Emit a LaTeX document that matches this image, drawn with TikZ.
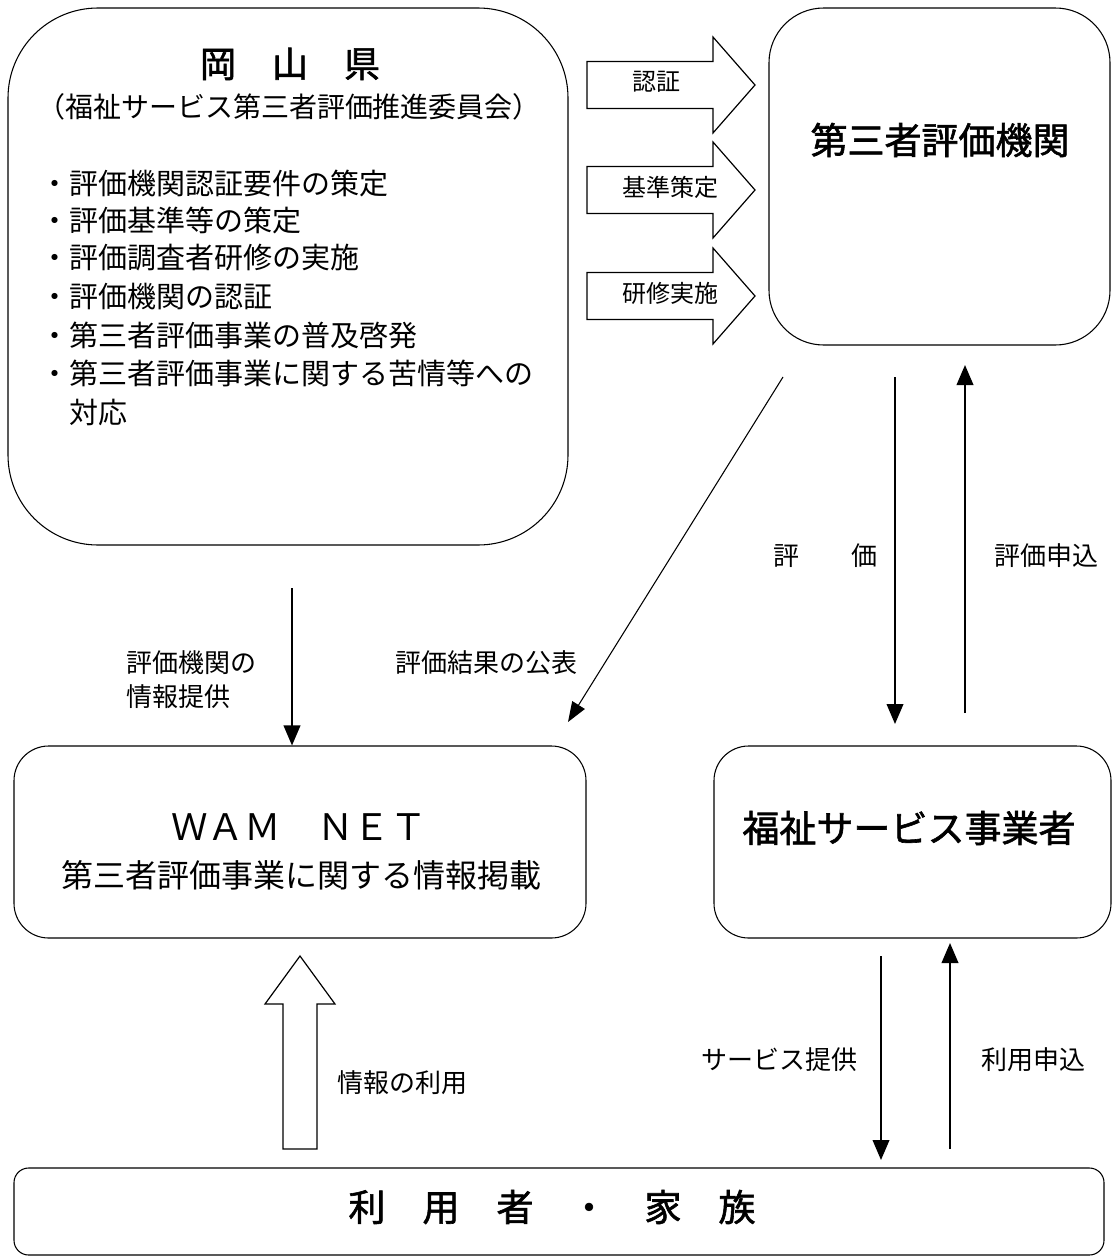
\documentclass[tikz,border=0pt]{standalone}
\usepackage{fontspec}
\setmainfont{Noto Sans CJK JP}
\newfontfamily\medfont[FakeBold=1.6]{Noto Sans CJK JP}
\usetikzlibrary{arrows.meta}
\tikzset{
  box/.style={draw, line width=0.8pt, inner sep=0pt},
  la/.style={line width=1.3pt, -{Triangle[length=15pt,width=12.5pt]}},
  thinla/.style={line width=0.8pt, -{Triangle[length=15pt,width=11pt]}},
  blk/.style={draw, line width=0.9pt, fill=white, line join=miter},
  lbl/.style={inner sep=0pt, font=\fontsize{19.5}{24}\selectfont},
  albl/.style={inner sep=0pt, font=\fontsize{18}{22}\selectfont},
  big/.style={inner sep=0pt, font=\medfont\fontsize{27.75}{32}\selectfont},
  bul/.style={inner sep=0pt, anchor=west, font=\fontsize{21.75}{26}\selectfont},
}
\begin{document}
\begin{tikzpicture}[x=0.75pt,y=-0.75pt]
\useasboundingbox (0,0) rectangle (1113,1260);
\fill[white] (0,0) rectangle (1113,1260);

% ---- boxes
\node[box, rounded corners=67.5pt, minimum width=420pt, minimum height=402.75pt] (oka) at (288,276.5) {};
\node[box, rounded corners=41pt, minimum width=255.75pt, minimum height=252.75pt] (tpe) at (939.5,176.5) {};
\node[box, rounded corners=26pt, minimum width=429pt, minimum height=144pt] (wam) at (300,842) {};
\node[box, rounded corners=26pt, minimum width=297.75pt, minimum height=144pt] (fuk) at (912.5,842) {};
\node[box, rounded corners=11pt, minimum width=817.5pt, minimum height=65.25pt] (usr) at (559,1211.5) {};

% ---- Okayama texts
\node[inner sep=0pt, font=\medfont\fontsize{27}{32}\selectfont] (okaT) at (290,64) {岡　山　県};
\node[inner sep=0pt, font=\fontsize{21}{26}\selectfont] (okaS) at (289,107) {（福祉サービス第三者評価推進委員会）};
\node[bul] (b1) at (40,183) {・評価機関認証要件の策定};
\node[bul] (b2) at (40,220) {・評価基準等の策定};
\node[bul] (b3) at (40,258) {・評価調査者研修の実施};
\node[bul] (b4) at (40,297) {・評価機関の認証};
\node[bul] (b5) at (40,335) {・第三者評価事業の普及啓発};
\node[bul] (b6) at (40,373) {・第三者評価事業に関する苦情等への};
\node[bul] (b7) at (40,412) {\hphantom{・}対応};

% ---- other box texts
\node[big] (tpeT) at (940,140) {第三者評価機関};
\node[inner sep=0pt, font=\fontsize{27.4}{32}\selectfont] (wamT) at (299,827) {ＷＡＭ　ＮＥＴ};
\node[inner sep=0pt, font=\fontsize{24}{28}\selectfont] (wamS) at (301,875) {第三者評価事業に関する情報掲載};
\node[big] (fukT) at (909,828) {福祉サービス事業者};
\node[big] (usrT) at (552,1207) {利　用　者　・　家　族};

% ---- block arrows (right)
\foreach \yc/\nm in {85/ba1,190/ba2,296/ba3}{
  \draw[blk] (587,\yc-23.5) -- (713,\yc-23.5) -- (713,\yc-48) -- (755,\yc)
     -- (713,\yc+48) -- (713,\yc+23.5) -- (587,\yc+23.5) -- cycle;
}
\node[albl] (l1) at (656,82) {認証};
\node[albl] (l2) at (670,187) {基準策定};
\node[albl] (l3) at (670,293) {研修実施};

% ---- block arrow (up)
\draw[blk] (283,1149) -- (283,1004) -- (265,1004) -- (300,956) -- (335,1004)
   -- (317,1004) -- (317,1149) -- cycle;
\node[lbl] (l4) at (402,1083) {情報の利用};

% ---- line arrows
\coordinate (a1s) at (292,588);
\draw[la] (a1s) -- (wam.north -| a1s);
\node[lbl, anchor=west] (l5) at (126,663) {評価機関の};
\node[lbl, anchor=west] (l6) at (126,697) {情報提供};

\coordinate (a2s) at (783,377);
\coordinate (a2e) at (568,722);
\draw[thinla] (a2s) -- (a2e);
\node[lbl] (l7) at (486,663) {評価結果の公表};

\coordinate (a3s) at (895,377);
\coordinate (a3e) at (895,724);
\draw[la] (a3s) -- (a3e);
\node[lbl] (l8) at (825,556) {評　　価};

\coordinate (a4s) at (965,713);
\coordinate (a4e) at (965,365);
\draw[la] (a4s) -- (a4e);
\node[lbl] (l9) at (1046,556) {評価申込};

\coordinate (a5s) at (881,956);
\coordinate (a5e) at (881,1160);
\draw[la] (a5s) -- (a5e);
\node[lbl] (l10) at (779,1060) {サービス提供};

\coordinate (a6s) at (950,1149);
\coordinate (a6e) at (950,943);
\draw[la] (a6s) -- (a6e);
\node[lbl] (l11) at (1033,1060) {利用申込};
\end{tikzpicture}
\end{document}
